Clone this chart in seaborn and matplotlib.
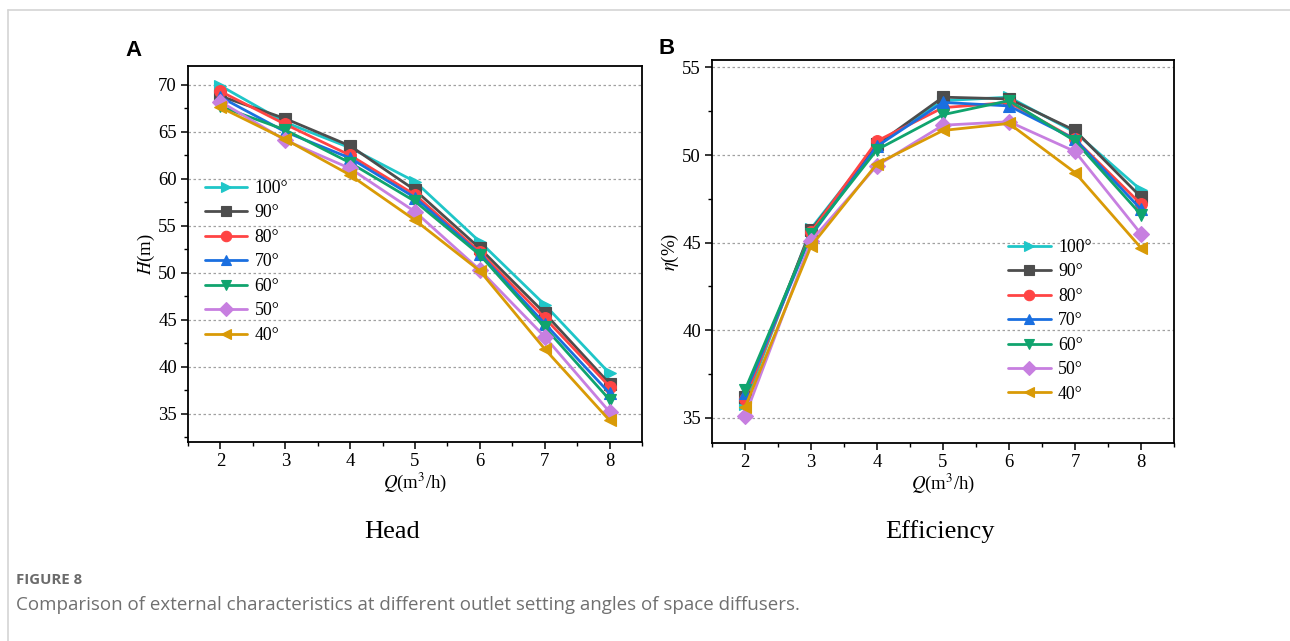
import numpy as np
import pandas as pd
import seaborn as sns
import matplotlib
matplotlib.use("Agg")
import matplotlib.pyplot as plt
from matplotlib.lines import Line2D
from matplotlib.ticker import MultipleLocator

# ---------------- data ----------------
flow = [2, 3, 4, 5, 6, 7, 8]
angles = ["100°", "90°", "80°", "70°", "60°", "50°", "40°"]

head_100 = [69.9, 66.0, 63.3, 59.7, 53.3, 46.6, 39.3]
head_90 = [68.8, 66.4, 63.5, 58.8, 52.6, 45.7, 38.2]
head_80 = [69.3, 65.8, 62.5, 58.3, 52.2, 45.2, 37.9]
head_70 = [68.7, 65.0, 62.2, 58.0, 52.0, 44.6, 37.2]
head_60 = [67.7, 65.2, 61.7, 57.6, 51.9, 44.2, 36.5]
head_50 = [68.2, 64.1, 61.1, 56.5, 50.3, 43.2, 35.2]
head_40 = [67.6, 64.2, 60.4, 55.6, 50.2, 41.9, 34.3]

eff_100 = [35.8, 45.8, 50.6, 53.1, 53.3, 51.3, 48.0]
eff_90 = [36.2, 45.7, 50.6, 53.3, 53.2, 51.4, 47.6]
eff_80 = [36.1, 45.6, 50.8, 52.7, 53.0, 50.9, 47.2]
eff_70 = [36.4, 45.4, 50.5, 53.0, 52.8, 50.9, 46.9]
eff_60 = [36.6, 45.5, 50.3, 52.3, 53.1, 50.8, 46.6]
eff_50 = [35.1, 45.1, 49.4, 51.7, 51.9, 50.2, 45.5]
eff_40 = [35.6, 44.8, 49.5, 51.4, 51.8, 49.0, 44.7]

head_series = [head_100, head_90, head_80, head_70, head_60, head_50, head_40]
eff_series = [eff_100, eff_90, eff_80, eff_70, eff_60, eff_50, eff_40]

colors = ["#1fc6c8", "#4d4d4d", "#ff4444", "#1a6fe0", "#10a46e", "#c77fe0", "#d99a06"]
markers = [">", "s", "o", "^", "v", "D", "<"]

rows = []
for a, hs, es in zip(angles, head_series, eff_series):
    for q, h, e in zip(flow, hs, es):
        rows.append({"Q": q, "angle": a, "H": h, "eta": e})
df = pd.DataFrame(rows)

# ---------------- style ----------------
sns.set_theme(style="ticks")
plt.rcParams["font.family"] = ["Liberation Serif", "DejaVu Serif"]
plt.rcParams["mathtext.fontset"] = "stix"
plt.rcParams["axes.linewidth"] = 1.3
plt.rcParams["text.color"] = "black"
plt.rcParams["axes.labelcolor"] = "black"
plt.rcParams["xtick.color"] = "black"
plt.rcParams["ytick.color"] = "black"

W, H = 1290, 641
fig = plt.figure(figsize=(W / 100, H / 100), dpi=100)
fig.patch.set_facecolor("white")

ax1 = fig.add_axes([188 / W, 1 - 442 / H, (642 - 188) / W, (442 - 66) / H])
ax2 = fig.add_axes([712 / W, 1 - 443 / H, (1174 - 712) / W, (443 - 60) / H])

pal = dict(zip(angles, colors))
mk = dict(zip(angles, markers))

for ax, ycol in ((ax1, "H"), (ax2, "eta")):
    sns.lineplot(data=df, x="Q", y=ycol, hue="angle", style="angle",
                 hue_order=angles, style_order=angles, palette=pal,
                 markers=mk, dashes=False, linewidth=2.0, markersize=8.5,
                 markeredgewidth=0.8, ax=ax, zorder=3)
    for ln in ax.lines:
        ln.set_markeredgecolor(ln.get_color())

def style_axis(ax, ylim, ymaj):
    ax.set_xlim(1.5, 8.5)
    ax.set_ylim(*ylim)
    ax.xaxis.set_major_locator(MultipleLocator(1))
    ax.xaxis.set_minor_locator(MultipleLocator(0.5))
    ax.yaxis.set_major_locator(MultipleLocator(ymaj))
    ax.yaxis.set_minor_locator(MultipleLocator(ymaj / 2))
    ax.tick_params(axis="both", which="major", direction="out", length=5,
                   width=1.1, labelsize=13.5, color="black",
                   labelcolor="black", pad=3)
    ax.tick_params(axis="both", which="minor", direction="out", length=3,
                   width=1.0, color="black")
    for s in ax.spines.values():
        s.set_visible(True)
        s.set_color("black")
        s.set_linewidth(1.3)
    ax.grid(axis="y", which="major", linestyle=(0, (2, 2)), color="#a0a0a0",
            linewidth=0.9, zorder=0)
    ax.set_axisbelow(True)
    for lab in ax.get_xticklabels() + ax.get_yticklabels():
        lab.set_fontfamily("Liberation Serif")
    ax.set_xlabel(r"$Q$(m$^3$/h)", fontsize=13.5, labelpad=0)

style_axis(ax1, (32.0, 72.0), 5)
style_axis(ax2, (33.57, 55.42), 5)
ax1.set_ylabel(r"$H$(m)", fontsize=13.5, labelpad=1)
ax2.set_ylabel(r"$\eta$(%)", fontsize=13.5, labelpad=1)

# legends
for ax, anchor in ((ax1, (0.037, 0.697)), (ax2, (0.641, 0.533))):
    handles, labels = ax.get_legend_handles_labels()
    leg = ax.legend(handles, labels, loc="upper left", bbox_to_anchor=anchor,
                    frameon=False, fontsize=12.8, handlelength=2.4,
                    handletextpad=0.4, labelspacing=0.42, borderpad=0,
                    borderaxespad=0)
    for t in leg.get_texts():
        t.set_fontfamily("Liberation Serif")
        t.set_color("black")
    for lh in leg.legend_handles:
        lh.set_markersize(7.5)
        lh.set_markeredgecolor(lh.get_color())

# panel letters
fig.text(133 / W, 1 - 50 / H, "A", fontsize=16, fontweight="bold",
         family="Liberation Sans", ha="center", va="center")
fig.text(667 / W, 1 - 48 / H, "B", fontsize=16, fontweight="bold",
         family="Liberation Sans", ha="center", va="center")

# subplot titles
fig.text(392 / W, 1 - 532 / H, "Head", fontsize=19, family="Liberation Serif",
         ha="center", va="center")
fig.text(940 / W, 1 - 532 / H, "Efficiency", fontsize=19,
         family="Liberation Serif", ha="center", va="center")

# caption
fig.text(16 / W, 1 - 580 / H, "FIGURE 8", fontsize=10.8, fontweight="bold",
         family="Open Sans", color="#6b6b6b", ha="left", va="center")
fig.text(16 / W, 1 - 605 / H,
         "Comparison of external characteristics at different outlet setting angles of space diffusers.",
         fontsize=13.5, family="Open Sans", color="#707070", ha="left", va="center")

# page frame
fig.add_artist(Line2D([7.5 / W, 1.0], [1 - 9.5 / H, 1 - 9.5 / H],
                      transform=fig.transFigure, color="#d4d4d4", linewidth=1.2))
fig.add_artist(Line2D([7.5 / W, 7.5 / W], [0.0, 1 - 9.5 / H],
                      transform=fig.transFigure, color="#d4d4d4", linewidth=1.2))

fig.savefig("out.png", dpi=100, facecolor="white")
